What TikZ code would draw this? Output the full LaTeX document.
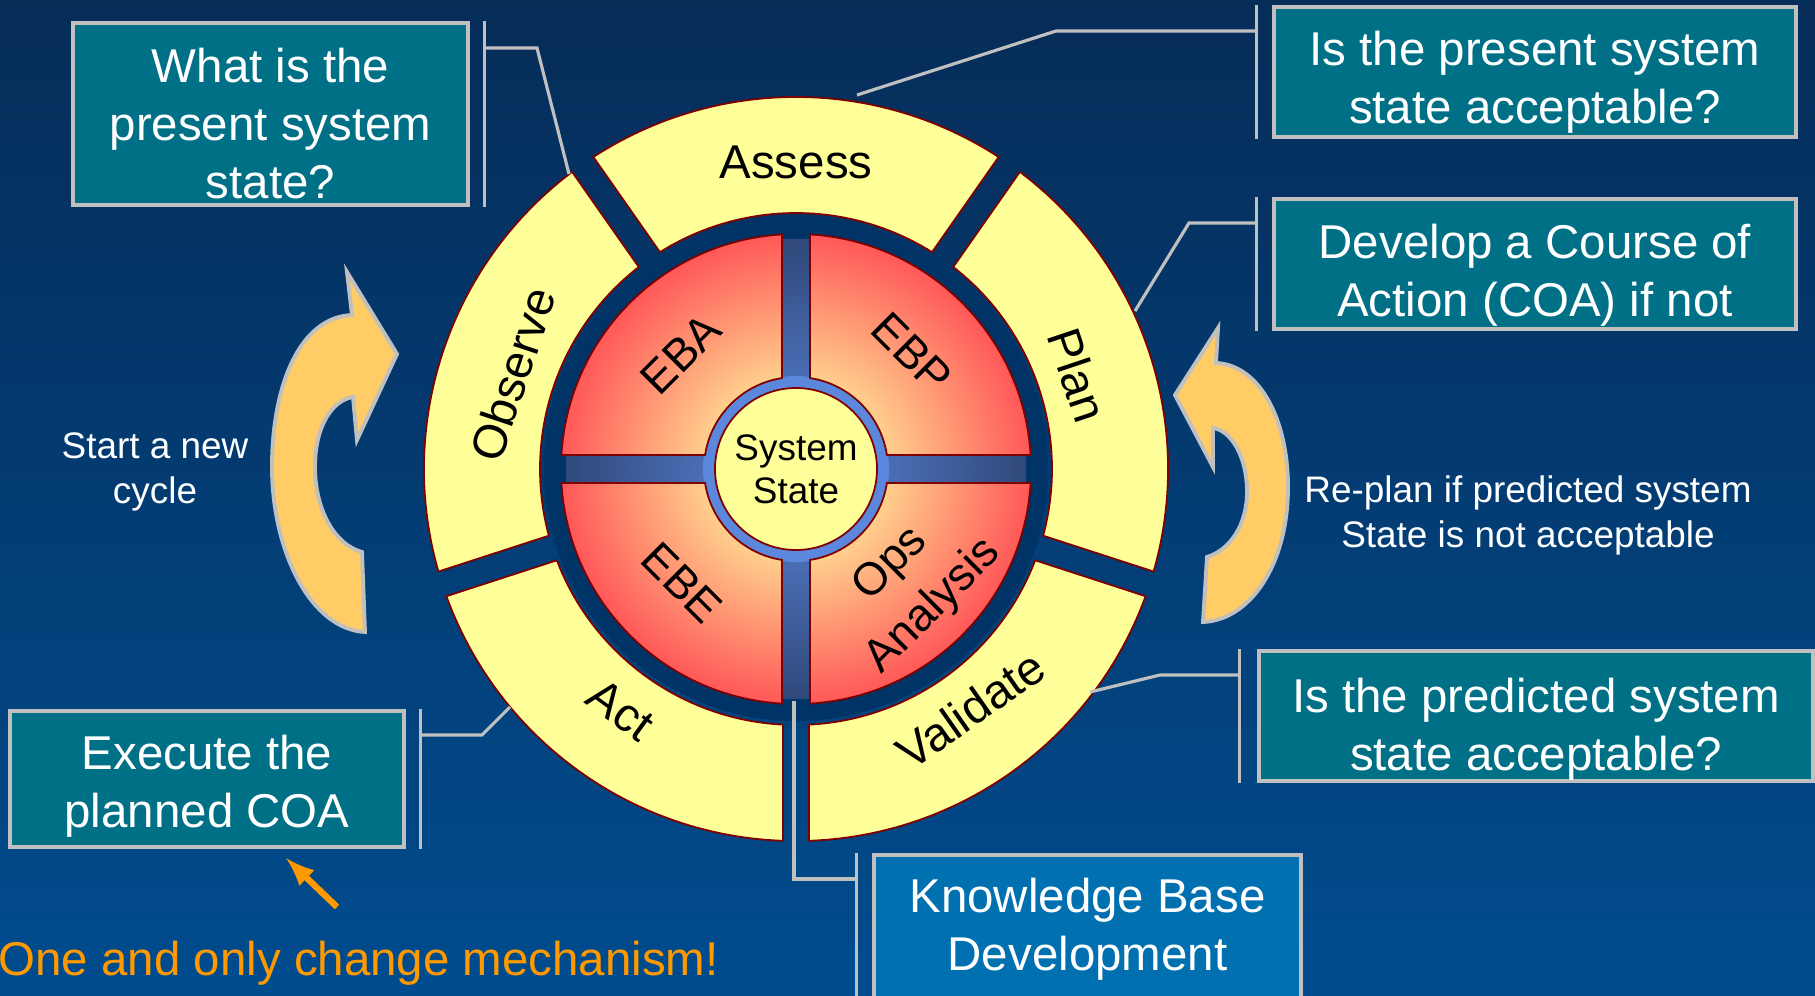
\documentclass[tikz,border=0pt]{standalone}
\usepackage{fontspec}
\setmainfont{Liberation Sans}
\usetikzlibrary{arrows,shapes,positioning}

\definecolor{bgtop}{RGB}{6,44,88}
\definecolor{bgbot}{RGB}{0,76,142}
\definecolor{boxteal}{RGB}{0,112,135}
\definecolor{boxblue}{RGB}{0,112,176}
\definecolor{rim}{RGB}{192,192,192}
\definecolor{pale}{RGB}{255,255,153}
\definecolor{edge}{RGB}{128,0,0}
\definecolor{navy}{RGB}{0,51,102}
\definecolor{ringblue}{RGB}{91,135,220}
\definecolor{bardark}{RGB}{48,72,122}
\definecolor{peach}{RGB}{255,205,140}
\definecolor{hot}{RGB}{255,88,88}
\definecolor{curl}{RGB}{255,204,102}
\definecolor{warn}{RGB}{255,153,0}

\pgfdeclareradialshading{glow}{\pgfpoint{0bp}{0bp}}{color(0bp)=(peach); color(10bp)=(peach); color(25bp)=(hot); color(50bp)=(hot)}

\begin{document}
\begin{tikzpicture}[x=1cm, y=1cm, every node/.style={font=\fontsize{13.5}{16.5}\selectfont},
    qbox/.style={draw=rim, line width=1.2pt, fill=boxteal},
    qtext/.style={text=white, align=center},
    leader/.style={draw=rim, line width=0.9pt},
    ringpart/.style={draw=edge, line width=0.5pt, fill=pale},
    curlarrow/.style={draw=rim, line width=1.1pt, fill=curl}]

    % backdrop
    \useasboundingbox (0,0) rectangle (18.15,9.95);
    \clip (0,0) rectangle (18.15,9.95);
    \shade[top color=bgtop, bottom color=bgbot] (0,0) rectangle (18.15,9.95);

    % the wheel
    \begin{scope}[shift={(7.96,5.26)}]
        % outer ring, five parts with straight gaps
        \foreach \a/\b in {-18/55,55/125,125/198,198/270,270/342} {
            \draw[ringpart] (\a+2.0:3.72) arc[start angle=\a+2.0, end angle=\b-2.0, radius=3.72]
                -- (\b-2.9:2.56) arc[start angle=\b-2.9, end angle=\a+2.9, radius=2.56] -- cycle;
        }
        % names around the ring
        \foreach \ang/\rad/\rot/\nm/\txt in {90/3.07/0/assess/Assess, 18.5/2.97/-71.5/plan/Plan,
                306/2.97/35/validate/Validate, 234/2.98/-36/act/Act, 161.5/2.99/71.5/observe/Observe}
            \node[rotate=\rot] (\nm) at (\ang:\rad) {\txt};

        % dark band, blue cross and blue ring
        \fill[navy] (0,0) circle (2.52);
        \shade[inner color=ringblue, outer color=bardark] (-2.3,-0.14) -- (-0.14,-0.14) -- (-0.14,-2.3) -- (0.14,-2.3)
            -- (0.14,-0.14) -- (2.3,-0.14) -- (2.3,0.14) -- (0.14,0.14) -- (0.14,2.3) -- (-0.14,2.3)
            -- (-0.14,0.14) -- (-2.3,0.14) -- cycle;
        \fill[ringblue] (0,0) circle (0.93);

        % four red quarters
        \foreach \r in {0,90,180,270} {
            \begin{scope}[rotate=\r]
                \begin{scope}
                    \clip (8.75:0.92) -- (3.42:2.35) arc[start angle=3.42, end angle=86.58, radius=2.35]
                        -- (81.25:0.92) arc[start angle=81.25, end angle=8.75, radius=0.92] -- cycle;
                    \shade[shading=glow] (0,0) circle (2.35);
                \end{scope}
                \draw[edge, line width=0.5pt] (8.75:0.92) -- (3.42:2.35) arc[start angle=3.42, end angle=86.58, radius=2.35]
                    -- (81.25:0.92) arc[start angle=81.25, end angle=8.75, radius=0.92] -- cycle;
            \end{scope}
        }

        % system state hub
        \node[circle, draw=edge, fill=pale, line width=0.5pt, minimum size=1.62cm, inner sep=0pt, align=center,
            font=\fontsize{10.5}{12.3}\selectfont] (state) at (0,0) {System\\State};

        % quarter names
        \node[rotate=45, font=\fontsize{13}{17}\selectfont] (eba) at (135:1.63) {EBA};
        \node[rotate=-45, font=\fontsize{13}{17}\selectfont] (ebp) at (45:1.64) {EBP};
        \node[rotate=-45, font=\fontsize{13}{17}\selectfont] (ebe) at (225:1.61) {EBE};
        \node[rotate=45, align=center, font=\fontsize{13}{17}\selectfont] (ops) at (315:1.65) {Ops\\Analysis};
    \end{scope}

    % curved arrows
    \draw[curlarrow] (3.52,6.80) .. controls (3.0,6.78) and (2.72,6.1) .. (2.72,5.28)
        .. controls (2.72,4.45) and (3.1,3.66) .. (3.65,3.63) -- (3.62,4.43)
        .. controls (3.35,4.5) and (3.15,4.85) .. (3.15,5.28)
        .. controls (3.15,5.7) and (3.33,5.95) .. (3.53,5.98) -- (3.57,5.55) -- (3.97,6.41) -- (3.47,7.23) -- cycle;
    \draw[curlarrow] (12.16,6.32) .. controls (12.6,6.3) and (12.88,5.75) .. (12.88,5.08)
        .. controls (12.88,4.3) and (12.5,3.75) .. (12.03,3.73) -- (12.07,4.38)
        .. controls (12.3,4.45) and (12.47,4.7) .. (12.47,5.03)
        .. controls (12.47,5.4) and (12.3,5.65) .. (12.13,5.67) -- (12.13,5.28) -- (11.75,6.00) -- (12.18,6.67) -- cycle;

    \node[text=white, align=center, font=\fontsize{10.5}{12.8}\selectfont] (newcycle) at (1.55,5.23) {Start a new\\cycle};
    \node[text=white, align=center, font=\fontsize{10.5}{12.8}\selectfont] (replan) at (15.28,4.80) {Re-plan if predicted system\\State is not acceptable};

    % question boxes
    \node[qbox, minimum width=3.95cm, minimum height=1.82cm] (qpresent) at (2.705,8.81) {};
    \node[qtext] (tpresent) at ([yshift=-0.95mm]qpresent.center) {What is the\\present system\\state?};

    \node[qbox, minimum width=5.22cm, minimum height=1.30cm] (qaccept) at (15.35,9.23) {};
    \node[qtext] (taccept) at ([yshift=-1.05mm]qaccept.center) {Is the present system\\state acceptable?};

    \node[qbox, minimum width=5.22cm, minimum height=1.30cm] (qcoa) at (15.35,7.31) {};
    \node[qtext] (tcoa) at ([yshift=-1.15mm]qcoa.center) {Develop a Course of\\Action (COA) if not};

    \node[qbox, minimum width=5.54cm, minimum height=1.30cm] (qpredict) at (15.36,2.79) {};
    \node[qtext] (tpredict) at ([yshift=-1.3mm]qpredict.center) {Is the predicted system\\state acceptable?};

    \node[qbox, fill=boxblue, minimum width=4.27cm, minimum height=1.45cm] (kbdev) at (10.875,0.675) {};
    \node[qtext] (tkbdev) at ([yshift=-0.2mm]kbdev.center) {Knowledge Base\\Development};

    \node[qbox, minimum width=3.94cm, minimum height=1.36cm] (execcoa) at (2.07,2.16) {};
    \node[qtext] (texeccoa) at ([yshift=-0.75mm]execcoa.center) {Execute the\\planned COA};

    % brackets beside the boxes
    \coordinate (b1) at ([xshift=1.4mm]qpresent.east);
    \coordinate (b2) at ([xshift=-1.5mm]qaccept.west);
    \coordinate (b3) at ([xshift=-1.5mm]qcoa.west);
    \coordinate (b4) at ([xshift=-1.7mm]qpredict.west);
    \coordinate (b5) at ([xshift=-1.5mm]kbdev.west);
    \coordinate (b6) at ([xshift=1.4mm]execcoa.east);
    \draw[leader] ([xshift=1.4mm]qpresent.north east) -- ([xshift=1.4mm]qpresent.south east);
    \draw[leader] ([xshift=-1.5mm]qaccept.north west) -- ([xshift=-1.5mm]qaccept.south west);
    \draw[leader] ([xshift=-1.5mm]qcoa.north west) -- ([xshift=-1.5mm]qcoa.south west);
    \draw[leader] ([xshift=-1.7mm]qpredict.north west) -- ([xshift=-1.7mm]qpredict.south west);
    \draw[leader] ([xshift=-1.5mm]kbdev.north west) -- ([xshift=-1.5mm]kbdev.south west);
    \draw[leader] ([xshift=1.4mm]execcoa.north east) -- ([xshift=1.4mm]execcoa.south east);

    % leader lines to the wheel
    \coordinate (c1) at (5.37,9.47);   \coordinate (e1) at (5.69,8.21);
    \coordinate (c2) at (10.56,9.64);  \coordinate (e2) at (8.57,9.00);
    \coordinate (c3) at (11.89,7.72);  \coordinate (e3) at (11.35,6.84);
    \coordinate (c4) at (11.60,3.20);  \coordinate (e4) at (10.90,3.03);
    \coordinate (c5) at (7.94,1.16);   \coordinate (e5) at (7.94,2.94);
    \coordinate (c6) at (4.82,2.60);   \coordinate (e6) at (5.10,2.88);
    \foreach \i in {1,...,6}
        \draw[leader] (b\i |- c\i) -- (c\i) -- (e\i);

    % the one change mechanism
    \coordinate (mtail) at (3.37,0.88);
    \coordinate (mhead) at (2.86,1.37);
    \draw[warn, line width=1.8pt, -latex] (mtail) -- (mhead);
    \node[text=warn, anchor=base west, inner sep=0pt] (mech) at (-0.02,0.20) {One and only change mechanism!};
\end{tikzpicture}
\end{document}
